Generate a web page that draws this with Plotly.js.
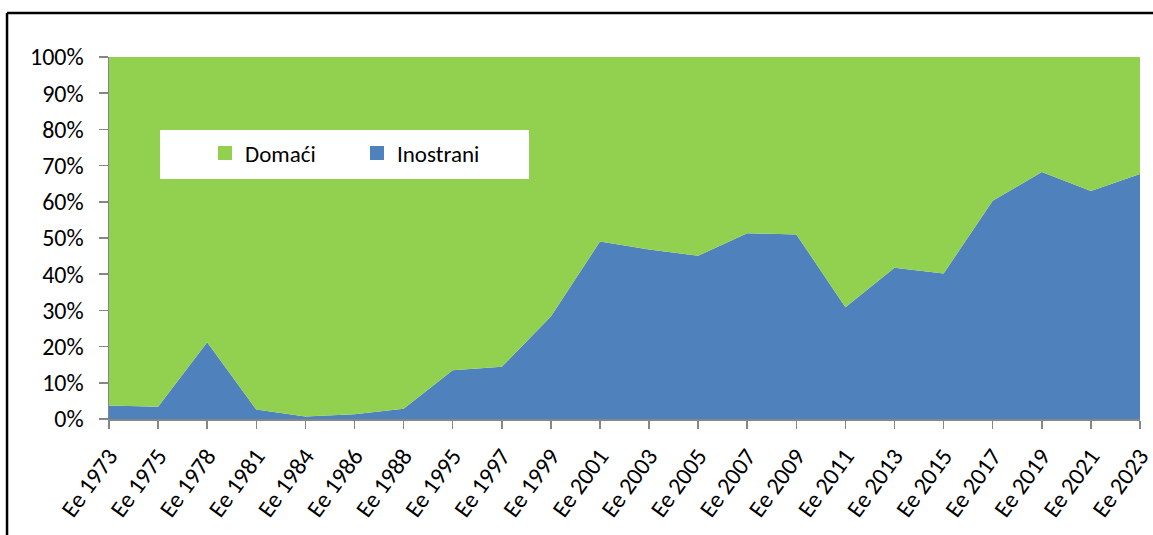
<!DOCTYPE html>
<html>
<head>
<meta charset="utf-8">
<script src="https://cdn.plot.ly/plotly-3.0.1.min.js"></script>
<style>
html,body{margin:0;padding:0;background:#fff;}
#chart{width:1153px;height:535px;}
</style>
</head>
<body>
<div id="chart"></div>
<script>
const categories = ["Ee 1973","Ee 1975","Ee 1978","Ee 1981","Ee 1984","Ee 1986","Ee 1988","Ee 1995","Ee 1997","Ee 1999","Ee 2001","Ee 2003","Ee 2005","Ee 2007","Ee 2009","Ee 2011","Ee 2013","Ee 2015","Ee 2017","Ee 2019","Ee 2021","Ee 2023"];
const inostrani = [3.7, 3.4, 21.2, 2.6, 0.7, 1.3, 2.8, 13.5, 14.4, 28.3, 49.0, 46.8, 45.1, 51.3, 51.0, 30.9, 41.8, 40.2, 60.3, 68.2, 63.0, 67.7];
const domaci    = [96.3, 96.6, 78.8, 97.4, 99.3, 98.7, 97.2, 86.5, 85.6, 71.7, 51.0, 53.2, 54.9, 48.7, 49.0, 69.1, 58.2, 59.8, 39.7, 31.8, 37.0, 32.3];
const seriesNames = ["Domaći", "Inostrani"];
const colorDomaci = "#92D050";
const colorInostrani = "#4F81BD";

const fontFam = "Calibri, Carlito, 'Noto Sans', sans-serif";

const traces = [
  {x: categories, y: inostrani, name: seriesNames[1], type: "scatter", mode: "none",
   stackgroup: "one", groupnorm: "fraction", fillcolor: colorInostrani, showlegend: false, hoverinfo: "skip"},
  {x: categories, y: domaci, name: seriesNames[0], type: "scatter", mode: "none",
   stackgroup: "one", fillcolor: colorDomaci, showlegend: false, hoverinfo: "skip"},
  {x: [null], y: [null], name: seriesNames[0], type: "scatter", mode: "markers",
   marker: {symbol: "square", size: 14, color: colorDomaci}, showlegend: true},
  {x: [null], y: [null], name: seriesNames[1], type: "scatter", mode: "markers",
   marker: {symbol: "square", size: 14, color: colorInostrani}, showlegend: true}
];

const layout = {
  width: 1153, height: 535,
  margin: {l: 109, r: 13, t: 57, b: 116},
  paper_bgcolor: "#fff", plot_bgcolor: "#fff",
  font: {family: fontFam, size: 23, color: "#000"},
  showlegend: true,
  legend: {orientation: "h", traceorder: "normal", x: 0.0931, xanchor: "left", y: 0.735, yanchor: "middle",
           bgcolor: "rgba(0,0,0,0)", font: {size: 23, family: fontFam}, entrywidth: 107, itemwidth: 30},
  xaxis: {type: "category", range: [0, 21], showgrid: false, zeroline: false,
          showline: true, linecolor: "#868686", linewidth: 1.5,
          ticks: "outside", ticklen: 8, tickcolor: "#868686", tickwidth: 1.5,
          tickangle: -54, ticklabelstandoff: 4, tickfont: {size: 24, family: fontFam, color: "#000"},
          fixedrange: true},
  yaxis: {range: [0, 1], dtick: 0.1, tickformat: ".0%", showgrid: false, zeroline: false,
          showline: true, linecolor: "#868686", linewidth: 1.5,
          ticks: "outside", ticklen: 9, tickcolor: "#868686", tickwidth: 1.5,
          ticklabelstandoff: 10, tickfont: {size: 24, family: fontFam, color: "#000"}, fixedrange: true},
  shapes: [
    {type: "rect", xref: "paper", yref: "paper", x0: 0.0495, x1: 0.4074, y0: 0.663, y1: 0.798,
     fillcolor: "#fff", line: {width: 0}, layer: "above"},
    {type: "line", xref: "paper", yref: "paper", x0: -0.0989, x1: 1.02, y0: 1.1215, y1: 1.1215,
     line: {color: "#000", width: 2.5}},
    {type: "line", xref: "paper", yref: "paper", x0: -0.0989, x1: -0.0989, y0: 1.1215, y1: -0.33,
     line: {color: "#000", width: 2.5}}
  ]
};

Plotly.newPlot("chart", traces, layout, {displayModeBar: false, staticPlot: true});
</script>
</body>
</html>
